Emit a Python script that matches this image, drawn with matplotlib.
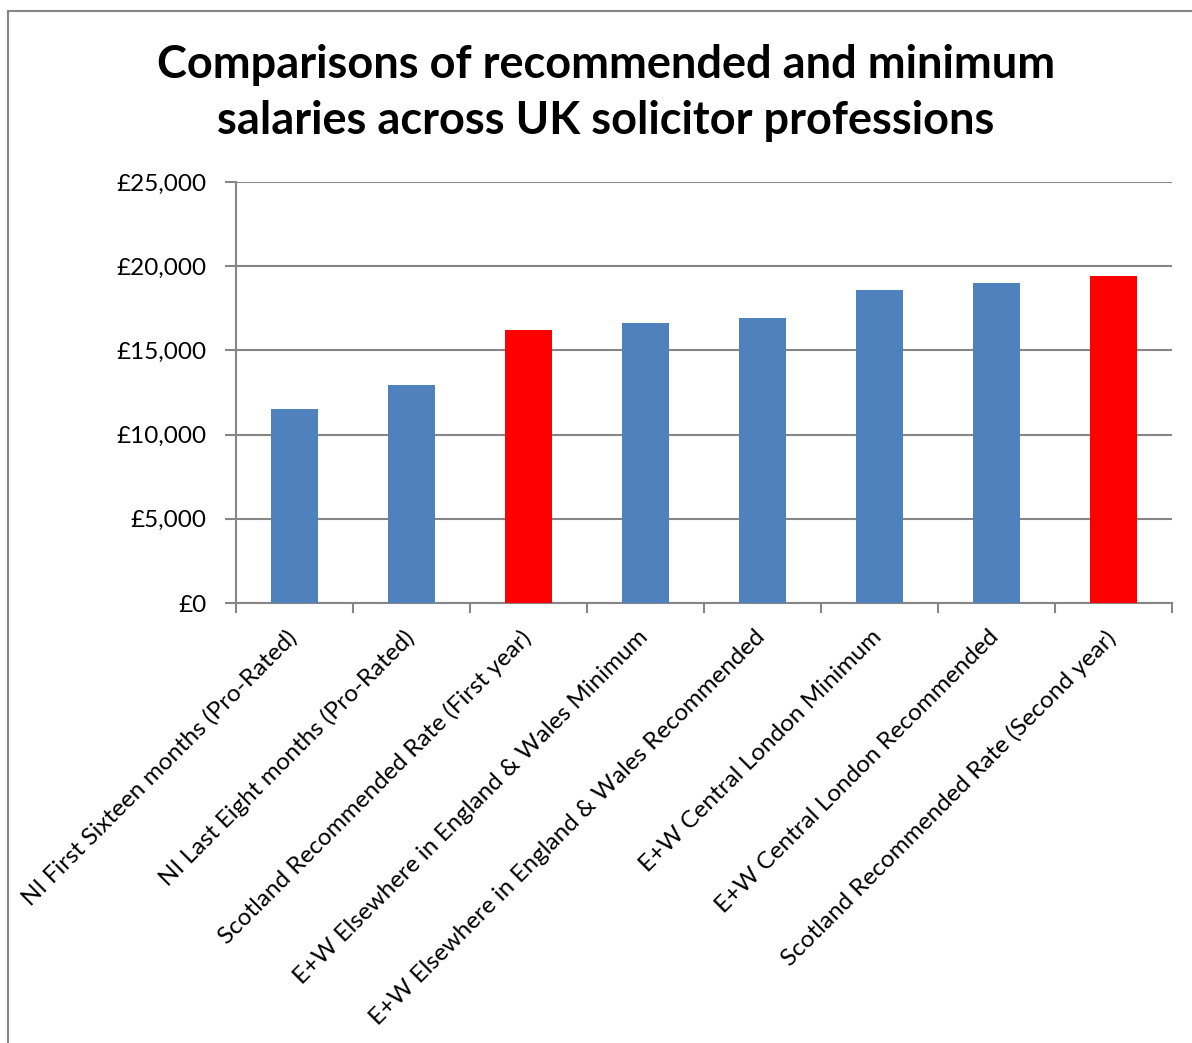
import matplotlib
matplotlib.use("Agg")
import matplotlib.pyplot as plt
from matplotlib.patches import Rectangle
from matplotlib.ticker import FuncFormatter, MultipleLocator

# --- data ---
categories = [
    "NI First Sixteen months (Pro-Rated)",
    "NI Last Eight months (Pro-Rated)",
    "Scotland Recommended Rate (First year)",
    "E+W Elsewhere in England & Wales Minimum",
    "E+W Elsewhere in England & Wales Recommended",
    "E+W Central London Minimum",
    "E+W Central London Recommended",
    "Scotland Recommended Rate (Second year)",
]
salaries = [11500, 12950, 16200, 16650, 16940, 18590, 19020, 19430]
is_scotland = [False, False, True, False, False, False, False, True]

title = "Comparisons of recommended and minimum\nsalaries across UK solicitor professions"

blue = "#4F81BD"
red = "#FF0000"
grey = "#868686"

plt.rcParams["font.family"] = ["Lato", "DejaVu Sans"]

W, H = 1192, 1043
fig = plt.figure(figsize=(W / 100, H / 100), dpi=100)

# outer chart border (only top and left visible in the reference)
fig.patches.append(Rectangle((8 / W, -0.1), 1.2, 1 - 11 / H + 0.1,
                             transform=fig.transFigure, fill=False,
                             edgecolor=grey, linewidth=1.5))

ax = fig.add_axes([236 / W, 1 - 603 / H, (1172 - 236) / W, (603 - 182) / H])

x = list(range(len(categories)))
colors = [red if s else blue for s in is_scotland]
ax.bar(x, salaries, width=0.4, color=colors, zorder=3)

ax.set_xlim(-0.5, len(categories) - 0.5)
ax.set_ylim(0, 25000)
ax.yaxis.set_major_locator(MultipleLocator(5000))
ax.yaxis.set_major_formatter(FuncFormatter(lambda v, p: "£{:,.0f}".format(v)))
ax.grid(axis="y", color=grey, linewidth=1.5, zorder=0)

for side in ["top", "right"]:
    ax.spines[side].set_visible(False)
for side in ["left", "bottom"]:
    ax.spines[side].set_color(grey)
    ax.spines[side].set_linewidth(1.5)

# category ticks between bars
ax.set_xticks([i - 0.5 for i in range(len(categories) + 1)])
ax.set_xticklabels([])
ax.tick_params(axis="x", length=7, width=1.5, color=grey)
ax.tick_params(axis="y", length=8, width=1.5, color=grey, labelsize=17.5, pad=13)

for i, lab in enumerate(categories):
    ax.annotate(lab, xy=(i, 0), xycoords=("data", "axes fraction"),
                xytext=(-6, -17), textcoords="offset points",
                rotation=45, rotation_mode="anchor", ha="right", va="top",
                fontsize=17.5)

fig.text(606 / W, 1 - 93 / H, title, ha="center", va="center",
         fontsize=32.5, fontweight="bold", linespacing=1.42)

fig.savefig("out.png", dpi=100)
